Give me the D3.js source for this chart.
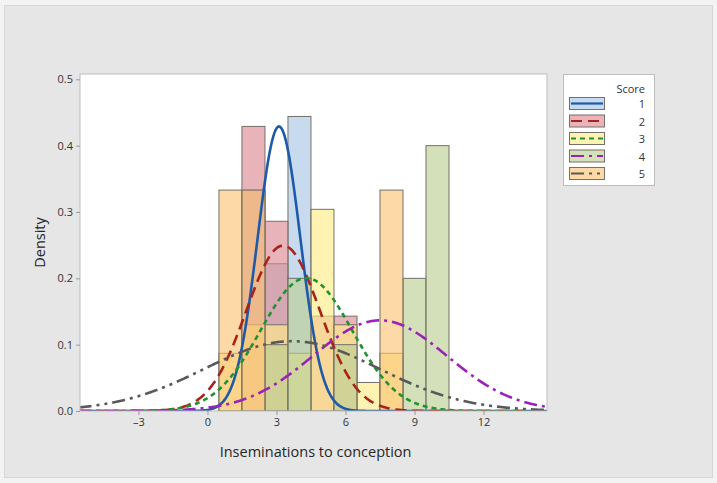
<!DOCTYPE html>
<html>
<head>
<meta charset="utf-8">
<script src="https://cdn.jsdelivr.net/npm/d3@7"></script>
<style>
  body { margin: 0; background: #f3f3f3; }
  text { font-family: "Open Sans", "Noto Sans", sans-serif; fill: #333; }
</style>
</head>
<body>
<div id="chart"></div>
<script>
// bins are one insemination wide, centred on 1..10
const binCenters = [1, 2, 3, 4, 5, 6, 7, 8, 9, 10];
const scores = ['1', '2', '3', '4', '5'];

// histogram densities per score
const score1Density = [0, 0.333, 0.222, 0.444, 0, 0, 0, 0, 0, 0];
const score2Density = [0, 0.429, 0.286, 0, 0.143, 0.143, 0, 0, 0, 0];
const score3Density = [0.087, 0.130, 0.130, 0.087, 0.304, 0.130, 0.043, 0.087, 0, 0];
const score4Density = [0, 0, 0.1, 0.2, 0, 0.1, 0, 0, 0.2, 0.4];
const score5Density = [0.333, 0.333, 0, 0, 0, 0, 0, 0.333, 0, 0];

// fitted normal curve parameters per score
const fitMean = [3.11, 3.29, 4.30, 7.50, 3.67];
const fitSd = [0.93, 1.60, 1.99, 2.92, 3.79];

const xTicks = [-3, 0, 3, 6, 9, 12];
const yTicks = [0, 0.1, 0.2, 0.3, 0.4, 0.5];

const densities = [score1Density, score2Density, score3Density, score4Density, score5Density];
const fillColors = ['#a7c5e5', '#dd8992', '#ffec85', '#bbcf93', '#fac373'];
const lineColors = ['#1f5aa8', '#a8231c', '#1e9430', '#9a22b8', '#595959'];
const dashes = [null, '11,6', '5,4', '13,5,3,5', '13,5,3,5,3,5'];
const barOpacity = 0.64;

const width = 717, height = 483;
const margin = {top: 74, right: 170, bottom: 72, left: 80};
const innerW = width - margin.left - margin.right;
const innerH = height - margin.top - margin.bottom;

const svg = d3.select('#chart').append('svg')
    .attr('width', width)
    .attr('height', height);

// outer frame
svg.append('rect')
    .attr('x', 4.5).attr('y', 5.5)
    .attr('width', 708).attr('height', 472)
    .attr('fill', '#e6e6e6')
    .attr('stroke', '#d6d6d6');

const chart = svg.append('g')
    .attr('transform', `translate(${margin.left},${margin.top})`);

const xScale = d3.scaleLinear()
    .domain([-5.54, 14.76])
    .range([0, innerW]);

const yScale = d3.scaleLinear()
    .domain([0, 0.508])
    .range([innerH, 0]);

chart.append('rect')
    .attr('width', innerW)
    .attr('height', innerH)
    .attr('fill', '#fff');

chart.append('clipPath')
    .attr('id', 'plot-clip')
  .append('rect')
    .attr('width', innerW)
    .attr('height', innerH);

const plot = chart.append('g').attr('clip-path', 'url(#plot-clip)');

// histogram bars, semi transparent so overlaps blend
densities.forEach((dens, i) => {
  const bars = binCenters.map((c, j) => ({x0: c - 0.5, x1: c + 0.5, d: dens[j]}))
      .filter(b => b.d > 0);
  plot.selectAll(`.bar-${i}`)
      .data(bars)
      .join('rect')
      .attr('class', `bar-${i}`)
      .attr('x', d => xScale(d.x0))
      .attr('width', d => xScale(d.x1) - xScale(d.x0))
      .attr('y', d => yScale(d.d))
      .attr('height', d => yScale(0) - yScale(d.d))
      .attr('fill', fillColors[i])
      .attr('fill-opacity', barOpacity)
      .attr('stroke', '#757068')
      .attr('stroke-width', 1);
});

// fitted normal curves
const xs = d3.range(-5.6, 14.85, 0.05);
const normal = (x, m, s) => Math.exp(-0.5 * ((x - m) / s) ** 2) / (s * Math.sqrt(2 * Math.PI));
const line = d3.line()
    .x(d => xScale(d[0]))
    .y(d => yScale(d[1]));

scores.forEach((s, i) => {
  plot.append('path')
      .datum(xs.map(x => [x, normal(x, fitMean[i], fitSd[i])]))
      .attr('d', line)
      .attr('fill', 'none')
      .attr('stroke', lineColors[i])
      .attr('stroke-width', 2.6)
      .attr('stroke-dasharray', dashes[i]);
});

// plot border
chart.append('rect')
    .attr('width', innerW)
    .attr('height', innerH)
    .attr('fill', 'none')
    .attr('stroke', '#bdbdbd');

// axes
const xAxis = d3.axisBottom(xScale)
    .tickValues(xTicks)
    .tickSize(4)
    .tickPadding(3)
    .tickFormat(d => d < 0 ? '\u2013' + Math.abs(d) : d);

const yAxis = d3.axisLeft(yScale)
    .tickValues(yTicks)
    .tickSize(4)
    .tickPadding(3)
    .tickFormat(d3.format('.1f'));

chart.append('g')
    .attr('transform', `translate(0,${innerH})`)
    .call(xAxis)
    .call(g => g.select('.domain').remove())
    .call(g => g.selectAll('line').attr('stroke', '#999'))
    .call(g => g.selectAll('text').attr('font-size', 11).attr('fill', '#333'));

chart.append('g')
    .call(yAxis)
    .call(g => g.select('.domain').remove())
    .call(g => g.selectAll('line').attr('stroke', '#999'))
    .call(g => g.selectAll('text').attr('font-size', 11).attr('fill', '#333'));

// axis titles
svg.append('text')
    .attr('x', margin.left + xScale(4.7))
    .attr('y', 457)
    .attr('text-anchor', 'middle')
    .attr('font-size', 14.5)
    .style('fill', '#262626')
    .text('Inseminations to conception');

svg.append('text')
    .attr('transform', `translate(45,${margin.top + innerH / 2}) rotate(-90)`)
    .attr('text-anchor', 'middle')
    .attr('font-size', 14.5)
    .style('fill', '#262626')
    .text('Density');

// legend
const legend = svg.append('g')
    .attr('transform', 'translate(563,74)');

legend.append('rect')
    .attr('x', 0.5).attr('y', 0.5)
    .attr('width', 91).attr('height', 111)
    .attr('fill', '#fff')
    .attr('stroke', '#bdbdbd');

legend.append('text')
    .attr('x', 82)
    .attr('y', 19)
    .attr('text-anchor', 'end')
    .attr('font-size', 11)
    .text('Score');

const items = legend.selectAll('.legend-item')
    .data(scores)
    .join('g')
    .attr('class', 'legend-item')
    .attr('transform', (d, i) => `translate(0,${23 + i * 17.5})`);

items.append('rect')
    .attr('x', 6.5).attr('y', 0.5)
    .attr('width', 35).attr('height', 12)
    .attr('fill', (d, i) => fillColors[i])
    .attr('fill-opacity', barOpacity)
    .attr('stroke', '#757068');

items.append('line')
    .attr('x1', 8).attr('x2', 40)
    .attr('y1', 6.5).attr('y2', 6.5)
    .attr('stroke', (d, i) => lineColors[i])
    .attr('stroke-width', 2.2)
    .attr('stroke-dasharray', (d, i) => dashes[i]);

items.append('text')
    .attr('x', 82)
    .attr('y', 11)
    .attr('text-anchor', 'end')
    .attr('font-size', 11)
    .text(d => d);
</script>
</body>
</html>
